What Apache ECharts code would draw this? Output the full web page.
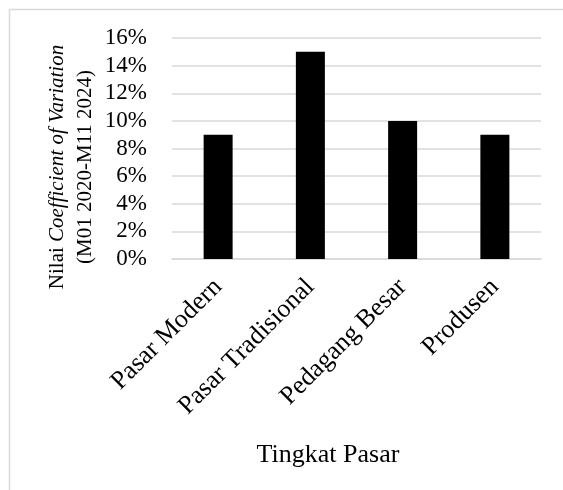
<!DOCTYPE html>
<html>
<head>
<meta charset="utf-8">
<script src="https://cdn.jsdelivr.net/npm/echarts@6/dist/echarts.min.js"></script>
<style>
  html, body { margin: 0; padding: 0; background: #fff; }
  #chart { width: 563px; height: 490px; }
</style>
</head>
<body>
<div id="chart"></div>
<script>
// Market levels and their coefficient of variation (percent)
const categories = ['Pasar Modern', 'Pasar Tradisional', 'Pedagang Besar', 'Produsen'];
const cvValues = [9, 15, 10, 9];
const yTicks = { min: 0, max: 16, step: 2 };

const FONT = 'Liberation Serif';
const GRID_COLOR = '#d9d9d9';

const chart = echarts.init(document.getElementById('chart'), null, { renderer: 'canvas' });

chart.setOption({
  animation: false,
  backgroundColor: '#ffffff',
  grid: { left: 172, right: 22, top: 38, bottom: 231, containLabel: false },
  xAxis: {
    type: 'category',
    data: categories,
    axisLine: { show: true, lineStyle: { color: GRID_COLOR, width: 1.5 } },
    axisTick: { show: false },
    axisLabel: {
      interval: 0,
      rotate: 45,
      margin: 24,
      color: '#000',
      fontFamily: FONT,
      fontSize: 26
    }
  },
  yAxis: {
    type: 'value',
    min: yTicks.min,
    max: yTicks.max,
    interval: yTicks.step,
    axisLine: { show: false },
    axisTick: { show: false },
    splitLine: { show: true, lineStyle: { color: GRID_COLOR, width: 1.5 } },
    axisLabel: {
      margin: 25,
      color: '#000',
      fontFamily: FONT,
      fontSize: 23,
      formatter: '{value}%'
    }
  },
  series: [{
    type: 'bar',
    data: cvValues,
    barWidth: 29,
    itemStyle: { color: '#000000' }
  }],
  graphic: [
    // chart area frame (top and left edges)
    { type: 'line', shape: { x1: 9.5, y1: 9.5, x2: 563, y2: 9.5 }, style: { stroke: GRID_COLOR, lineWidth: 1.5 }, silent: true },
    { type: 'line', shape: { x1: 9.5, y1: 9.5, x2: 9.5, y2: 490 }, style: { stroke: GRID_COLOR, lineWidth: 1.5 }, silent: true },
    // y-axis title
    {
      type: 'text',
      x: 71, y: 167,
      rotation: Math.PI / 2,
      style: {
        text: '{n|Nilai }{i|Coefficient of Variation}\n{n|(M01 2020-M11 2024)}',
        align: 'center',
        verticalAlign: 'middle',
        lineHeight: 28,
        fill: '#000',
        rich: {
          n: { fontFamily: FONT, fontSize: 21, lineHeight: 28, fill: '#000' },
          i: { fontFamily: FONT, fontSize: 21, fontStyle: 'italic', lineHeight: 28, fill: '#000' }
        }
      }
    },
    // x-axis title
    {
      type: 'text',
      x: 328, y: 455,
      style: {
        text: 'Tingkat Pasar',
        align: 'center',
        verticalAlign: 'middle',
        fontFamily: FONT,
        fontSize: 26,
        fill: '#000'
      }
    }
  ]
});
</script>
</body>
</html>
